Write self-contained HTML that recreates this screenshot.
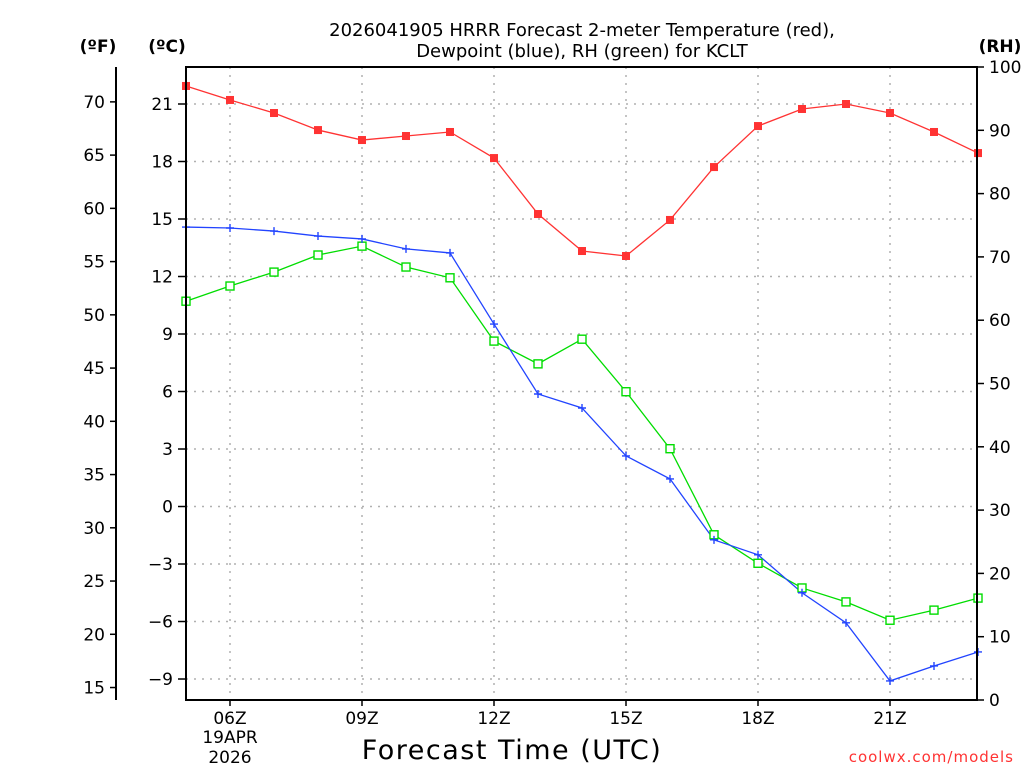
<!DOCTYPE html>
<html><head><meta charset="utf-8">
<style>
html,body{margin:0;padding:0;background:#fff;}
svg{display:block;font-family:"DejaVu Sans","Liberation Sans",sans-serif;}
</style></head>
<body>
<svg id="chart" width="1024" height="768" viewBox="0 0 1024 768" xmlns="http://www.w3.org/2000/svg">
<rect width="1024" height="768" fill="#fff"/>
<text x="582" y="36" text-anchor="middle" font-size="18" fill="#000">2026041905 HRRR Forecast 2-meter Temperature (red),</text>
<text x="582" y="57" text-anchor="middle" font-size="18" fill="#000">Dewpoint (blue), RH (green) for KCLT</text>
<text x="98" y="52" text-anchor="middle" font-size="17" font-weight="bold">(ºF)</text>
<text x="167" y="52" text-anchor="middle" font-size="17" font-weight="bold">(ºC)</text>
<text x="1000" y="52" text-anchor="middle" font-size="17" font-weight="bold">(RH)</text>
<text x="512" y="759" text-anchor="middle" font-size="27" letter-spacing="1.5">Forecast Time (UTC)</text>
<text x="1014" y="762" text-anchor="end" font-size="15" fill="#ff3333" letter-spacing="1">coolwx.com/models</text>
<g id="grid"></g>
<g id="axes"></g>
<g id="series"></g>
<rect x="186" y="67" width="791" height="633" fill="none" stroke="#000" stroke-width="2"/>
</svg>
<script>
const hours = [5,6,7,8,9,10,11,12,13,14,15,16,17,18,19,20,21,22,23];
const tempC = [21.94,21.21,20.53,19.64,19.12,19.33,19.54,18.18,15.26,13.33,13.07,14.95,17.71,19.85,20.74,21.0,20.53,19.54,18.44];
const dewC = [14.58,14.53,14.37,14.11,13.96,13.44,13.23,9.52,5.87,5.14,2.64,1.44,-1.74,-2.52,-4.5,-6.07,-9.1,-8.32,-7.59];
const rh = [63.0,65.4,67.6,70.3,71.7,68.4,66.7,56.7,53.1,57.0,48.7,39.7,26.1,21.6,17.7,15.5,12.6,14.2,16.1];
const cTicks = [21,18,15,12,9,6,3,0,-3,-6,-9];
const fTicks = [70,65,60,55,50,45,40,35,30,25,20,15];
const rhTicks = [0,10,20,30,40,50,60,70,80,90,100];
const xTickHours = [6,9,12,15,18,21];
const xTickLabels = ["06Z","09Z","12Z","15Z","18Z","21Z"];

const NS="http://www.w3.org/2000/svg";
const X=h=>186+(h-5)*44;
const YC=c=>104+(21-c)*19.167;
const YF=f=>YC((f-32)*5/9);
const YR=r=>700-r*6.33;
function mk(tag,attrs,parent){const e=document.createElementNS(NS,tag);for(const k in attrs)e.setAttribute(k,attrs[k]);parent.appendChild(e);return e;}
const grid=document.getElementById('grid'),axes=document.getElementById('axes'),series=document.getElementById('series');

cTicks.forEach(c=>{
  const y=YC(c);
  const g=mk('line',{x1:186,x2:977,y1:y,y2:y,stroke:'#b0b0b0','stroke-dasharray':'2,6','stroke-width':1.5},grid);
  
  
  const t=mk('line',{x1:178,x2:186,y1:y,y2:y,stroke:'#000','stroke-width':1.5},axes);
  
  
  const l=mk('text',{x:173,y:y+6,'text-anchor':'end','font-size':17},axes);
  l.textContent=c<0?'\u2212'+Math.abs(c):String(c);
  
  
});
xTickHours.forEach((h,i)=>{
  const x=X(h);
  const g=mk('line',{x1:x,x2:x,y1:67,y2:700,stroke:'#b0b0b0','stroke-dasharray':'2,6','stroke-width':1.5},grid);
  
  
  const t=mk('line',{x1:x,x2:x,y1:700,y2:706,stroke:'#000','stroke-width':1.5},axes);
  
  
  const l=mk('text',{x:x,y:724,'text-anchor':'middle','font-size':17},axes);
  l.textContent=xTickLabels[i];
  
  
});
[["19APR",743],["2026",763]].forEach(d=>{
  const l=mk('text',{x:X(6),y:d[1],'text-anchor':'middle','font-size':17},axes);
  l.textContent=d[0];
  
  
});
const fl=mk('line',{x1:116,x2:116,y1:67,y2:700,stroke:'#000','stroke-width':2},axes);


fTicks.forEach(f=>{
  const y=YF(f);
  const t=mk('line',{x1:110,x2:116,y1:y,y2:y,stroke:'#000','stroke-width':1.5},axes);
  
  
  const l=mk('text',{x:105,y:y+6,'text-anchor':'end','font-size':17},axes);
  l.textContent=String(f);
  
  
});
rhTicks.forEach(r=>{
  const y=YR(r);
  const t=mk('line',{x1:977,x2:984,y1:y,y2:y,stroke:'#000','stroke-width':1.5},axes);
  
  
  const l=mk('text',{x:989,y:y+6,'text-anchor':'start','font-size':17},axes);
  l.textContent=String(r);
  
  
});

function line(vals,yf,color,name){
  const pts=vals.map((v,i)=>X(hours[i])+','+yf(v)).join(' ');
  const p=mk('polyline',{points:pts,fill:'none',stroke:color,'stroke-width':1.3},series);
  
  
}
line(rh,YR,'#00dd00','rh-line');
line(dewC,YC,'#2244ff','dewpoint-line');
line(tempC,YC,'#ff3333','temperature-line');
rh.forEach((v,i)=>{
  const r=mk('rect',{x:X(hours[i])-4,y:YR(v)-4,width:8,height:8,fill:'#fff',stroke:'#00dd00','stroke-width':1.4},series);
  
  
});
dewC.forEach((v,i)=>{
  const x=X(hours[i]),y=YC(v);
  const p=mk('path',{d:`M${x-4},${y}H${x+4}M${x},${y-4}V${y+4}`,stroke:'#2244ff','stroke-width':1.4},series);
  
  
});
tempC.forEach((v,i)=>{
  const r=mk('rect',{x:X(hours[i])-4,y:YC(v)-4,width:8,height:8,fill:'#ff3333'},series);
  
  
});
</script>
</body></html>
